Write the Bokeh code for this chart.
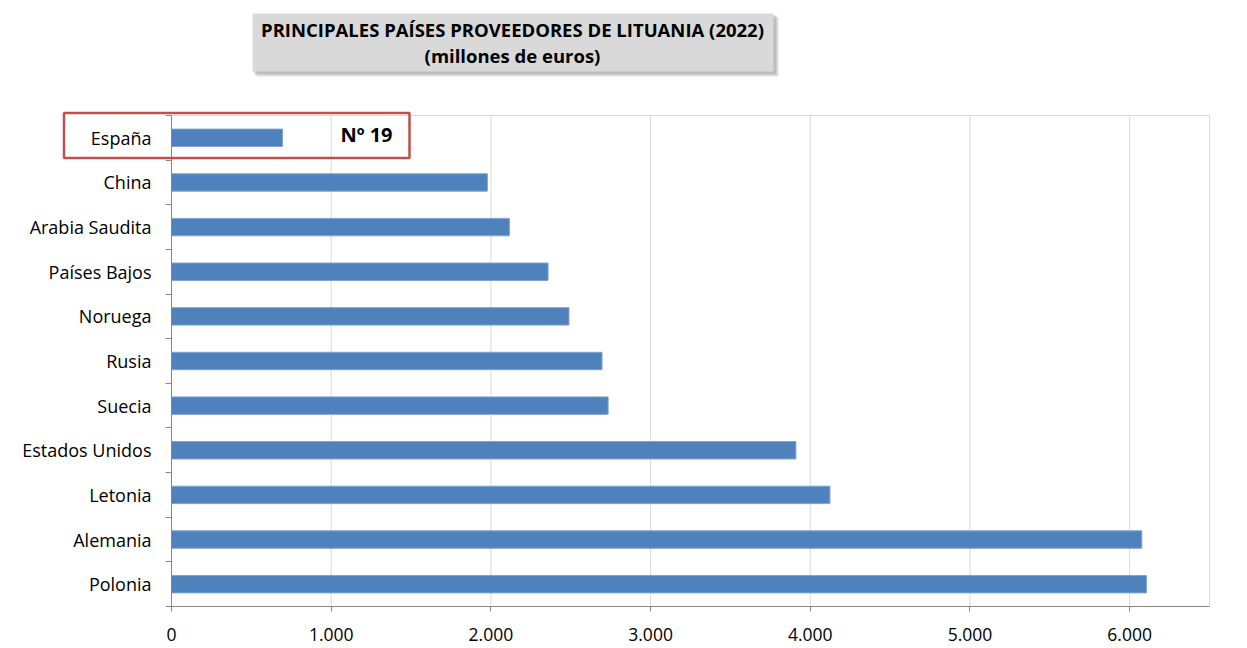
from bokeh.plotting import figure
from bokeh.models import Range1d, FixedTicker, BoxAnnotation, Label, ColumnDataSource
from bokeh.embed import file_html
from bokeh.resources import INLINE

# ---- data (top to bottom as shown) ----
countries = ["España", "China", "Arabia Saudita", "Países Bajos", "Noruega",
             "Rusia", "Suecia", "Estados Unidos", "Letonia", "Alemania", "Polonia"]
values = [695, 1978, 2116, 2358, 2489, 2696, 2734, 3910, 4123, 6076, 6105]
x_ticks = [0, 1000, 2000, 3000, 4000, 5000, 6000]
x_tick_labels = ["0", "1.000", "2.000", "3.000", "4.000", "5.000", "6.000"]
title_line1 = "PRINCIPALES PAÍSES PROVEEDORES DE LITUANIA (2022)"
title_line2 = "(millones de euros)"
rank_label = "Nº 19"

X_MAX = 6500
n = len(countries)
ypos = [n - i - 0.5 for i in range(n)]

# canvas geometry (pixels): the plotting area of the chart
W, H = 1245, 646
PL, PR, PT, PB = 171, 1209, 115, 606
bx = (PR - PL) / X_MAX
cy = (PB - PT) / n

def dx(px):  # canvas x -> data x
    return (px - PL) / bx

def dy(py):  # canvas y -> data y
    return (PB - py) / cy

p = figure(width=W, height=H, output_backend="svg", toolbar_location=None,
           x_range=Range1d(dx(0), dx(W)), y_range=Range1d(dy(H), dy(0)),
           title=None)
p.min_border = 0
p.background_fill_color = "white"
p.border_fill_color = "white"
p.outline_line_color = None
p.xgrid.visible = False
p.ygrid.visible = False

# plot-area border
p.add_layout(BoxAnnotation(left=0, right=X_MAX, bottom=0, top=n, level="underlay",
                           fill_alpha=0, line_color="#d9d9d9", line_width=1, line_alpha=1))

# vertical grid lines
p.segment(x0=x_ticks, y0=[0] * len(x_ticks), x1=x_ticks, y1=[n] * len(x_ticks),
          line_color="#d9d9d9", line_width=1)

src = ColumnDataSource(dict(y=ypos, right=values, name=countries))
p.hbar(y="y", left=0, right="right", height=0.39, source=src,
       fill_color="#4f81bd", line_color="#7fa2d1", line_width=1)

# x axis
xa = p.xaxis[0]
xa.fixed_location = 0
xa.bounds = (0, X_MAX)
xa.ticker = FixedTicker(ticks=x_ticks)
xa.major_label_overrides = {t: l for t, l in zip(x_ticks, x_tick_labels)}
xa.axis_line_color = "#868686"
xa.major_tick_line_color = "#868686"
xa.major_tick_out = 5
xa.major_tick_in = 0
xa.minor_tick_line_color = None
xa.major_label_text_font = "Open Sans"
xa.major_label_text_font_size = "17.5px"
xa.major_label_text_color = "#000000"
xa.major_label_standoff = 16

# y axis: labels at centres, tick marks at boundaries
ya = p.yaxis[0]
ya.fixed_location = 0
ya.bounds = (0, n)
ya.ticker = FixedTicker(ticks=ypos, minor_ticks=list(range(n + 1)))
ya.major_label_overrides = {y: c for y, c in zip(ypos, countries)}
ya.axis_line_color = "#868686"
ya.major_tick_line_color = None
ya.major_tick_out = 0
ya.major_tick_in = 0
ya.minor_tick_line_color = "#868686"
ya.minor_tick_out = 6
ya.minor_tick_in = 0
ya.major_label_text_font = "Open Sans"
ya.major_label_text_font_size = "18px"
ya.major_label_text_color = "#000000"
ya.major_label_standoff = 14

# title box with shadow
p.add_layout(BoxAnnotation(left=dx(256), right=dx(778), top=dy(17), bottom=dy(76),
                           fill_color="#7f7f7f", fill_alpha=0.25, line_alpha=0))
p.add_layout(BoxAnnotation(left=dx(254), right=dx(776), top=dy(15), bottom=dy(74),
                           fill_color="#7f7f7f", fill_alpha=0.35, line_alpha=0))
p.add_layout(BoxAnnotation(left=dx(252), right=dx(773), top=dy(13), bottom=dy(71),
                           fill_color="#d9d9d9", fill_alpha=1, line_alpha=0))
p.add_layout(Label(x=dx(512), y=dy(29), text=title_line1, text_align="center",
                   text_baseline="middle", text_font="Open Sans", text_font_style="bold",
                   text_font_size="18.5px", text_color="#000000"))
p.add_layout(Label(x=dx(512), y=dy(55), text=title_line2, text_align="center",
                   text_baseline="middle", text_font="Open Sans", text_font_style="bold",
                   text_font_size="18.5px", text_color="#000000"))

# highlight box around España
p.add_layout(BoxAnnotation(left=dx(63.5), right=dx(409), top=dy(112.5), bottom=dy(157.5),
                           fill_alpha=0, line_color="#c0504d", line_width=2.5, line_alpha=1))
p.add_layout(Label(x=dx(366), y=dy(134), text=rank_label, text_align="center",
                   text_baseline="middle", text_font="Open Sans", text_font_style="bold",
                   text_font_size="20px", text_color="#000000"))

open("out.html", "w").write(file_html(p, INLINE))
